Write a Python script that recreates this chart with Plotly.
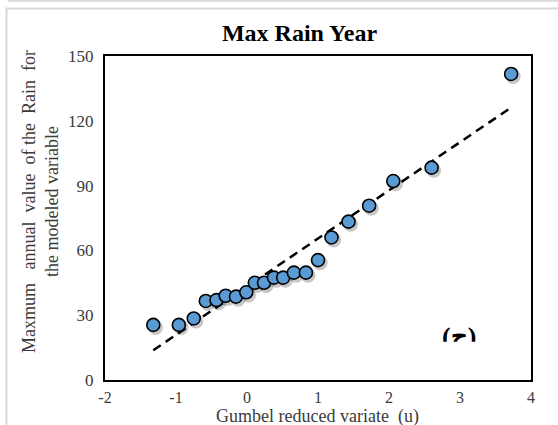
import plotly.graph_objects as go

# Gumbel reduced variate (u) and observed annual maximum rain
u_values = [-1.32, -0.96, -0.75, -0.58, -0.43, -0.30, -0.155, -0.01, 0.11, 0.24,
            0.38, 0.51, 0.66, 0.83, 1.00, 1.19, 1.43, 1.72, 2.06, 2.60, 3.72]
rain_values = [25.5, 25.5, 28.5, 36.6, 37.0, 39.0, 38.6, 40.6, 45.0, 45.0,
               47.4, 47.4, 49.7, 49.7, 55.5, 66.0, 73.3, 80.7, 92.1, 98.3, 141.7]

# Fitted Gumbel line: rain = intercept + slope * u
fit_intercept = 43.2
fit_slope = 22.3

x_ticks = [-2, -1, 0, 1, 2, 3, 4]
x_tick_labels = ["-2", "-1", "0", "1", "2", "3", "4"]
y_ticks = [0, 30, 60, 90, 120, 150]

SERIF = "Liberation Serif, Times New Roman, serif"
TEXT_GREY = "#3a3a3a"

fit_x = [min(u_values), max(u_values)]
fit_y = [fit_intercept + fit_slope * x for x in fit_x]

fig = go.Figure()

# soft drop shadow under markers
fig.add_trace(go.Scatter(
    x=[x + 0.03 for x in u_values], y=[y - 1.2 for y in rain_values],
    mode="markers",
    marker=dict(size=15, color="rgba(0,0,0,0.22)", line=dict(width=0)),
    hoverinfo="skip", showlegend=False,
))

fig.add_trace(go.Scatter(
    x=fit_x, y=fit_y, mode="lines",
    line=dict(color="black", width=2.5, dash="9px,6px"),
    showlegend=False,
))

fig.add_trace(go.Scatter(
    x=u_values, y=rain_values, mode="markers",
    marker=dict(size=13, color="#5B9BD5", line=dict(color="black", width=1.6)),
    showlegend=False,
))

# panel label, partly hidden below by a white band
fig.add_trace(go.Scatter(
    x=[2.99], y=[19.0], mode="text", text=["<b>(ج)</b>"],
    textfont=dict(family=SERIF, size=26, color="black"),
    showlegend=False, hoverinfo="skip",
))

fig.update_layout(
    width=558, height=425,
    margin=dict(l=105, r=27, t=56, b=45),
    paper_bgcolor="white", plot_bgcolor="white",
    title=dict(text="<b>Max Rain Year</b>", x=299.5 / 558, xanchor="center",
               y=1 - 33 / 425, yanchor="middle",
               font=dict(family=SERIF, size=24, color="black")),
    xaxis=dict(range=[-2, 4], tickvals=x_ticks, ticktext=x_tick_labels,
               showgrid=False, zeroline=False,
               showline=True, linecolor="black", linewidth=2, mirror=True,
               ticks="", ticklabelstandoff=2,
               tickfont=dict(family=SERIF, size=16, color=TEXT_GREY)),
    yaxis=dict(range=[0, 150], tickvals=y_ticks, showgrid=False, zeroline=False,
               showline=True, linecolor="black", linewidth=2, mirror=True,
               ticks="", ticklabelstandoff=6,
               tickfont=dict(family=SERIF, size=17, color=TEXT_GREY)),
    shapes=[
        # white band clipping the lower part of the panel label
        dict(type="rect", xref="x", yref="y", x0=2.6, x1=3.4, y0=4, y1=17.7,
             fillcolor="white", line=dict(width=0), layer="above"),
        # outer chart frame
        dict(type="rect", xref="paper", yref="paper",
             x0=(6.5 - 105) / 426, x1=(562 - 105) / 426,
             y0=(380 - 440) / 324, y1=(380 - 8.5) / 324,
             line=dict(color="#d9d9d9", width=2), fillcolor="rgba(0,0,0,0)", layer="below"),
        dict(type="line", xref="paper", yref="paper",
             x0=(8 - 105) / 426, x1=(562 - 105) / 426,
             y0=(380 - 0.8) / 324, y1=(380 - 0.8) / 324,
             line=dict(color="#d9d9d9", width=2), layer="below"),
    ],
    annotations=[
        dict(text="Maxmum   annual  value  of the  Rain  for<br>the modeled variable",
             xref="paper", yref="paper",
             x=(40 - 105) / 426, y=(380 - 202) / 324,
             xanchor="center", yanchor="middle", textangle=-90, showarrow=False,
             font=dict(family=SERIF, size=18, color=TEXT_GREY)),
        dict(text="Gumbel reduced variate  (u)",
             xref="paper", yref="paper",
             x=(317 - 105) / 426, y=(380 - 416) / 324,
             xanchor="center", yanchor="middle", showarrow=False,
             font=dict(family=SERIF, size=18, color=TEXT_GREY)),
    ],
)

fig.write_html("out.html")
